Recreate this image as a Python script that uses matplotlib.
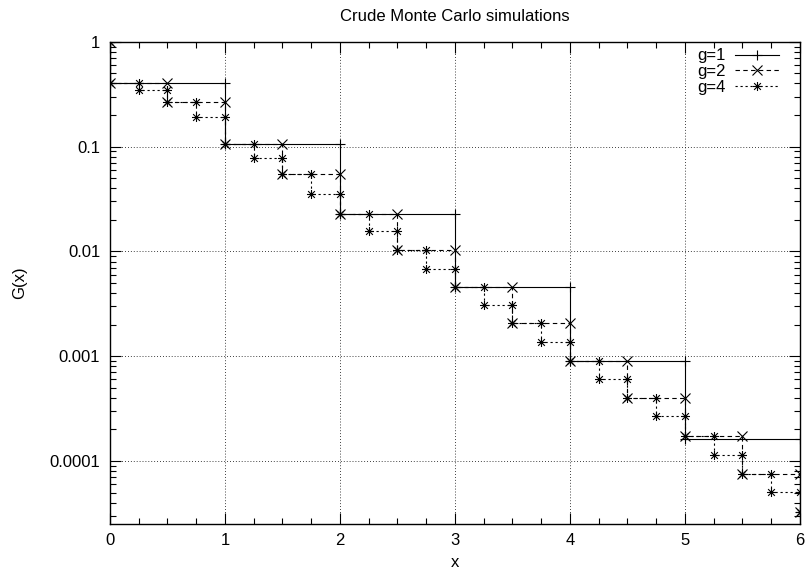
import numpy as np
import matplotlib
matplotlib.use("Agg")
import matplotlib.pyplot as plt
from matplotlib.path import Path
from matplotlib.ticker import LogLocator, FixedLocator, FuncFormatter, MultipleLocator

plt.rcParams['font.family'] = ['Liberation Sans', 'DejaVu Sans']
plt.rcParams['font.size'] = 12

x_end = 6.0
g_end = 3.23e-5   # value left at x = 6

# step heights, one per bin starting at x = 0
g1 = [0.401, 0.1056, 0.0229, 0.00459, 0.000893, 0.000162]
g2 = [0.401, 0.268, 0.1056, 0.0543, 0.0229, 0.0103, 0.00459, 0.00206,
      0.000898, 0.000401, 0.000173, 7.45e-5]
g4 = [0.401, 0.346, 0.268, 0.190, 0.1056, 0.0777, 0.0543, 0.0350,
      0.0229, 0.0156, 0.0103, 0.00683, 0.00459, 0.00307, 0.00206, 0.00137,
      0.000898, 0.000600, 0.000401, 0.000266, 0.000173, 0.000114, 7.45e-5, 5.08e-5]

series = [("g=1", g1, "-", "+"),
          ("g=2", g2, (0, (4, 3)), "x"),
          ("g=4", g4, (0, (2, 2.5)), "star")]

# gnuplot-like asterisk: plus and cross on top of each other
star = Path([(-1, 0), (1, 0), (0, -1), (0, 1),
             (-0.75, -0.75), (0.75, 0.75), (-0.75, 0.75), (0.75, -0.75)],
            [Path.MOVETO, Path.LINETO] * 4)


def step_points(vals):
    n = len(vals)
    xs = np.concatenate([[0.0], np.linspace(0, x_end, n + 1)])
    ys = np.concatenate([[1.0], vals, [g_end]])
    # corners of the staircase, for the markers
    cx, cy = [xs[0], xs[1]], [ys[0], ys[1]]
    for i in range(2, len(xs)):
        cx += [xs[i], xs[i]]
        cy += [ys[i - 1], ys[i]]
    return xs, ys, np.array(cx), np.array(cy)


fig = plt.figure(figsize=(8.07, 5.73), dpi=100)
ax = fig.add_axes([0.1363, 0.086, 0.855, 0.8412])

for label, vals, ls, mk in series:
    xs, ys, cx, cy = step_points(vals)
    m = star if mk == "star" else mk
    ax.plot(xs, ys, drawstyle="steps-post", color="black", lw=0.8, ls=ls)
    ax.plot(cx, cy, ls="none", marker=m, ms=6.5, mew=0.8, color="black")
    ax.plot([], [], color="black", lw=0.8, ls=ls, marker=m, ms=6.5, mew=0.8,
            label=label)

ax.set_yscale("log")
ax.set_xlim(0, 6)
ax.set_ylim(2.52e-5, 1)

ax.xaxis.set_major_locator(MultipleLocator(1))
ax.xaxis.set_minor_locator(MultipleLocator(0.25))
ax.yaxis.set_major_locator(FixedLocator([1e-4, 1e-3, 1e-2, 1e-1, 1]))
ax.yaxis.set_minor_locator(LogLocator(base=10, subs=np.arange(2, 10)))
ax.yaxis.set_major_formatter(FuncFormatter(lambda v, p: "%g" % v if v >= 1e-3 else "%.4f" % v))
ax.yaxis.set_minor_formatter(FuncFormatter(lambda v, p: ""))

ax.tick_params(which="both", direction="in", top=True, right=True, width=0.8, pad=7)
ax.tick_params(which="major", length=8)
ax.tick_params(which="minor", length=4)
for sp in ax.spines.values():
    sp.set_linewidth(1.0)

ax.grid(True, which="major", color="black", ls=(0, (1, 2.5)), lw=0.6)

ax.set_title("Crude Monte Carlo simulations", fontsize=12, pad=15)
ax.set_xlabel("x", labelpad=5)
ax.set_ylabel("G(x)", labelpad=16)

ax.legend(loc="upper right", bbox_to_anchor=(0.974, 0.993), frameon=False,
          markerfirst=False, handlelength=2.6, handletextpad=0.6,
          labelspacing=0.05, borderaxespad=0.0, borderpad=0.2)

fig.savefig("out.png", dpi=100)
